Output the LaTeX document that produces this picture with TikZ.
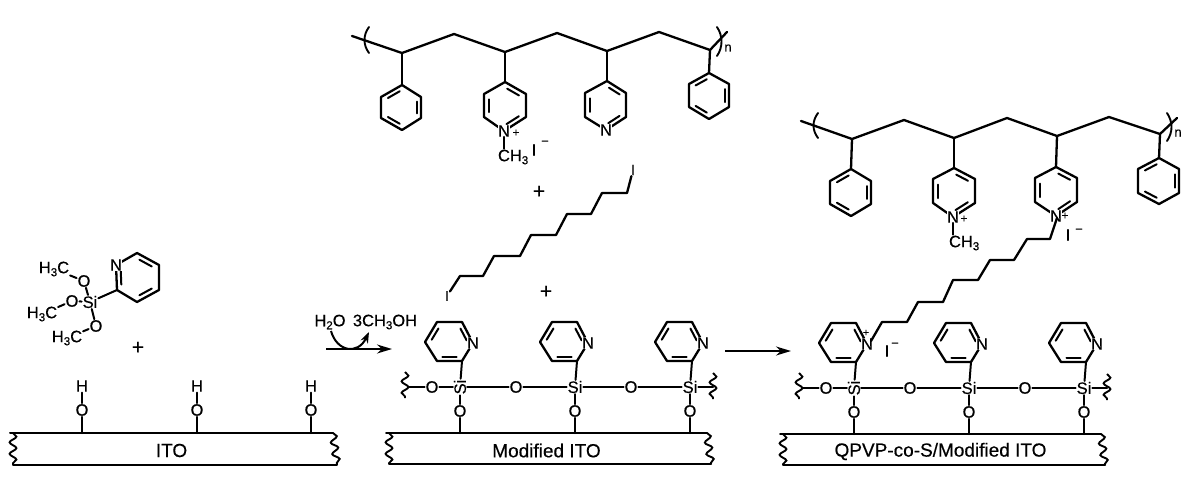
\documentclass[tikz,border=0pt]{standalone}
\usepackage{fontspec}
\setmainfont{Liberation Sans}[FakeBold=0.35]
\usetikzlibrary{calc,arrows.meta,decorations.pathmorphing}
\newcommand{\subn}[1]{\raisebox{-3pt}{\fontsize{11.5}{11.5}\selectfont #1}}
\tikzset{
  bond/.style={line width=2.3pt,line cap=round,line join=round},
  sbond/.style={line width=2pt,line cap=round,line join=round},
  thin bond/.style={line width=2pt,line cap=round},
  atom/.style={font=\fontsize{16.5}{16.5}\selectfont,inner sep=1pt,outer sep=0pt},
  natom/.style={atom,fill=white,inner sep=0.3pt},
  plus/.style={font=\fontsize{21}{21}\selectfont,inner sep=0pt},
  platetext/.style={font=\fontsize{19}{19}\selectfont,inner sep=0pt},
  wave/.style={line width=1.9pt,decorate,decoration={snake,amplitude=3.4pt,segment length=11.5pt}},
  rxn/.style={line width=1.9pt,-{Stealth[length=15pt,width=9pt]}},
  paren/.style={line width=1.9pt,line cap=round}
}
% ring: six vertices, double bonds a-f, b-c, d-e
\newcommand{\setring}[7]{%
  \coordinate (#1a) at (#2); \coordinate (#1b) at (#3); \coordinate (#1c) at (#4);
  \coordinate (#1d) at (#5); \coordinate (#1e) at (#6); \coordinate (#1f) at (#7);
  \coordinate (#1m) at ($(#1a)!0.5!(#1d)$);
  \draw[bond] (#1a)--(#1b)--(#1c)--(#1d)--(#1e)--(#1f)--cycle;}
\newcommand{\dbl}[3]{\draw[sbond] ($(#1#2)!0.14!(#1#3)!0.22!(#1m)$) -- ($(#1#3)!0.14!(#1#2)!0.22!(#1m)$);}
\newcommand{\ringA}[7]{\setring{#1}{#2}{#3}{#4}{#5}{#6}{#7}\dbl{#1}{a}{f}\dbl{#1}{b}{c}\dbl{#1}{d}{e}}
\newcommand{\ringB}[7]{\setring{#1}{#2}{#3}{#4}{#5}{#6}{#7}\dbl{#1}{a}{b}\dbl{#1}{c}{d}\dbl{#1}{e}{f}}
% plate: name, x left, x right, y top, y bottom, label
\newcommand{\plate}[6]{%
  \coordinate (#1tl) at (#2,#4); \coordinate (#1tr) at (#3,#4);
  \coordinate (#1bl) at ($(#2,#5)+(3,0)$); \coordinate (#1br) at ($(#3,#5)+(4,0)$);
  \draw[thin bond] (#1tl)--(#1tr); \draw[thin bond] (#1bl)--(#1br);
  \draw[wave] ($(#1tl)+(3,0)$) -- (#1bl);
  \draw[wave] ($(#1tr)+(0,0)$) -- (#1br);
  \node[platetext] (#1txt) at ($($(#1tl)!0.5!(#1tr)$)+(0,17.5)$) {#6};}
% surface template: prefix, plate label, text of first N
\newcommand{\surface}[3]{%
  \plate{#1P}{386}{707}{433}{464}{#2}
  \ringA{#1r1}{437,322}{462,322}{473,343}{462,361}{437,361}{425,342}
  \ringA{#1r2}{552,322}{577,322}{588,343}{577,361}{552,361}{540,342}
  \ringA{#1r3}{667,322}{692,322}{703,343}{692,361}{667,361}{655,342}
  \node[natom] (#1N1) at (473,343) {#3};
  \node[natom] (#1N2) at (588,343) {N};
  \node[natom] (#1N3) at (703,343) {N};
  \node[atom,rotate=90] (#1S1) at (460,387) {Si};
  \node[atom] (#1S2) at (575,387) {Si};
  \node[atom] (#1S3) at (690,387) {Si};
  \node[atom] (#1L) at (432,387) {O};
  \node[atom] (#1B1) at (516,387) {O};
  \node[atom] (#1B2) at (631,387) {O};
  \node[atom] (#1D1) at (460,411) {O};
  \node[atom] (#1D2) at (575,411) {O};
  \node[atom] (#1D3) at (690,411) {O};
  \coordinate (#1WL) at (405,372); \coordinate (#1WLb) at (405,398);
  \coordinate (#1WR) at (713,373); \coordinate (#1WRb) at (713,399);
  \draw[wave] (#1WL)--(#1WLb); \draw[wave] (#1WR)--(#1WRb);
  \coordinate (#1WLm) at (408,387); \coordinate (#1WRm) at (713,387);
  \coordinate (#1f1) at (460,433); \coordinate (#1f2) at (575,433); \coordinate (#1f3) at (690,433);
  \foreach \i/\j in {1/1,2/2,3/3}{
    \draw[sbond] (#1r\i d) -- (#1S\i);
    \draw[sbond] (#1S\i) -- (#1D\i);
    \draw[sbond] (#1D\i) -- (#1f\i);}
  \draw[sbond] (#1WLm) -- (#1L);
  \draw[sbond] (#1L) -- (#1S1);
  \draw[sbond] (#1S1) -- (#1B1);
  \draw[sbond] (#1B1) -- (#1S2);
  \draw[sbond] (#1S2) -- (#1B2);
  \draw[sbond] (#1B2) -- (#1S3);
  \draw[sbond] (#1S3) -- (#1WRm);}
\begin{document}
\begin{tikzpicture}[x=1pt,y=-1pt]
\useasboundingbox (0,0) rectangle (1204,482);
\fill[white] (0,0) rectangle (1204,482);

% ---------- left silane ----------
\ringB{sil}{137,253}{159,265}{159,290}{137,302}{117,290}{116,265}
\node[natom] (silN) at (116,265) {N};
\node[atom] (silSi) at (90,302) {Si};
\node[atom] (silO1) at (84,281) {O};
\node[atom] (silO2) at (72,301) {O};
\node[atom] (silO3) at (96,326) {O};
\node[atom] (silC1) at (54,269) {H\subn{3}C};
\node[atom] (silC2) at (42,314) {H\subn{3}C};
\node[atom] (silC3) at (67,338) {H\subn{3}C};
\draw[sbond] (sile) -- (silSi);
\draw[sbond] (silSi) -- (silO1);
\draw[sbond] (silSi) -- (silO2);
\draw[sbond] (silSi) -- (silO3);
\draw[sbond] (silO1) -- (silC1);
\draw[sbond] (silO2) -- (silC2);
\draw[sbond] (silO3) -- (silC3);
\node[plus] (plusA) at (138,348) {+};

% ---------- ITO ----------
\plate{ito}{10}{333}{433}{465}{ITO}
\foreach \n/\x in {1/82,2/197,3/311}{
  \node[atom] (itoO\n) at (\x,410) {O};
  \node[atom] (itoH\n) at (\x,386) {H};
  \coordinate (itoF\n) at (\x,433);
  \draw[sbond] (itoH\n) -- (itoO\n);
  \draw[sbond] (itoO\n) -- (itoF\n);}

% ---------- first arrow ----------
\coordinate (arA1) at (326,349); \coordinate (arA2) at (392,349);
\draw[rxn] (arA1) -- (arA2);
\node[atom] (water) at (330,322) {H\subn{2}O};
\node[atom] (meoh) at (385,322) {3CH\subn{3}OH};
\coordinate (curveS) at (331,331); \coordinate (curveE) at (369,332);
\draw[line width=2pt,-{Stealth[length=11pt,width=8pt]}] (curveS) .. controls (337,352) and (358,355) .. (curveE);

% ---------- surfaces ----------
\surface{m}{Modified ITO}{N}
\begin{scope}[shift={(394,1)}]
\surface{q}{QPVP-co-S/Modified ITO}{N}
\end{scope}
\node[inner sep=0pt,font=\fontsize{11}{11}\selectfont] (qplusA) at (866,333) {+};
\node[atom] (qI) at (887,351) {I};
\node[atom] (qIm) at (895,345) {\fontsize{13}{13}\selectfont −};

% ---------- second arrow ----------
\coordinate (arB1) at (725,351); \coordinate (arB2) at (791,351);
\draw[rxn] (arB1) -- (arB2);

% ---------- polymer 1 ----------
\coordinate (aS) at (352,36); \coordinate (a1) at (402,53); \coordinate (a2) at (454,34);
\coordinate (a3) at (505,52); \coordinate (a4) at (557,33); \coordinate (a5) at (607,51);
\coordinate (a6) at (659,32); \coordinate (a7) at (710,50); \coordinate (aE) at (727,32);
\draw[bond] (aS)--(a1)--(a2)--(a3)--(a4)--(a5)--(a6)--(a7)--(aE);
\coordinate (ap1) at (369,27); \coordinate (ap2) at (369,53);
\coordinate (aq1) at (717,27); \coordinate (aq2) at (717,56);
\draw[paren] (ap1) .. controls (363,35) and (363,45) .. (ap2);
\draw[paren] (aq1) .. controls (723,36) and (723,47) .. (aq2);
\node[inner sep=0pt,font=\fontsize{13}{13}\selectfont] (an) at (728,48) {n};
\ringA{ar1}{402,85}{421,97}{421,118}{402,130}{381,118}{381,97}
\ringB{ar2}{505,82}{526,94}{526,117}{504,131}{484,117}{484,94}
\ringB{ar3}{607,81}{626,93}{626,117}{606,130}{585,117}{585,93}
\ringA{ar4}{709,73}{729,84}{729,107}{709,119}{689,107}{689,84}
\draw[bond] (a1)--(ar1a); \draw[bond] (a3)--(ar2a);
\draw[bond] (a5)--(ar3a); \draw[bond] (a7)--(ar4a);
\node[natom] (aN1) at (504,131) {N};
\node[inner sep=0pt,font=\fontsize{12}{12}\selectfont] (aN1p) at (516,133) {+};
\node[natom] (aN2) at (606,130) {N};
\node[atom,anchor=west] (aMe) at (497,157) {CH\subn{3}};
\draw[sbond] (aN1) -- (aMe.north -| aN1);
\node[atom] (aI) at (534,150) {I};
\node[atom] (aIm) at (545,143) {\fontsize{13}{13}\selectfont −};

\node[plus] (plusB) at (539,192) {+};
\node[plus] (plusC) at (546,292) {+};

% ---------- diiodide ----------
\node[atom,font=\fontsize{14}{14}\selectfont] (iA) at (447,296) {I};
\node[atom,font=\fontsize{15}{15}\selectfont] (iB) at (633,170) {I};
\coordinate (d1) at (460,276); \coordinate (d2) at (483,276); \coordinate (d3) at (494,256);
\coordinate (d4) at (520,256); \coordinate (d5) at (531,235); \coordinate (d6) at (556,235);
\coordinate (d7) at (567,214); \coordinate (d8) at (591,214); \coordinate (d9) at (602,193);
\coordinate (d10) at (627,193);
\draw[bond] (iA)--(d1)--(d2)--(d3)--(d4)--(d5)--(d6)--(d7)--(d8)--(d9)--(d10)--(iB);

% ---------- polymer 2 ----------
\coordinate (bS) at (801,121); \coordinate (b1) at (852,139); \coordinate (b2) at (904,120);
\coordinate (b3) at (954,138); \coordinate (b4) at (1007,118); \coordinate (b5) at (1057,136);
\coordinate (b6) at (1109,117); \coordinate (b7) at (1160,134); \coordinate (bE) at (1177,118);
\draw[bond] (bS)--(b1)--(b2)--(b3)--(b4)--(b5)--(b6)--(b7)--(bE);
\coordinate (bp1) at (818,113); \coordinate (bp2) at (818,138);
\coordinate (bq1) at (1167,113); \coordinate (bq2) at (1167,141);
\draw[paren] (bp1) .. controls (812,121) and (812,130) .. (bp2);
\draw[paren] (bq1) .. controls (1173,122) and (1173,132) .. (bq2);
\node[inner sep=0pt,font=\fontsize{13}{13}\selectfont] (bn) at (1178,133) {n};
\ringA{br1}{851,169}{871,181}{871,204}{851,216}{830,204}{830,181}
\ringB{br2}{954,168}{975,179}{975,203}{953,217}{933,203}{933,179}
\ringB{br3}{1056,167}{1077,178}{1077,202}{1056,216}{1035,202}{1035,178}
\ringA{br4}{1159,158}{1179,169}{1179,193}{1159,204}{1138,193}{1138,169}
\draw[bond] (b1)--(br1a); \draw[bond] (b3)--(br2a);
\draw[bond] (b5)--(br3a); \draw[bond] (b7)--(br4a);
\node[natom] (bN1) at (953,217) {N};
\node[inner sep=0pt,font=\fontsize{12}{12}\selectfont] (bN1p) at (964,219) {+};
\node[natom] (bN2) at (1056,216) {N};
\node[inner sep=0pt,font=\fontsize{12}{12}\selectfont] (bN2p) at (1065,216) {+};
\node[atom,anchor=west] (bMe) at (948,243) {CH\subn{3}};
\draw[sbond] (bN1) -- (bMe.north -| bN1);
\node[atom] (bI) at (1068,235) {I};
\node[atom] (bIm) at (1079,231) {\fontsize{13}{13}\selectfont −};

% ---------- tether ----------
\coordinate (e0) at (1057,218); \coordinate (e1) at (1050,239); \coordinate (e2) at (1027,239);
\coordinate (e3) at (1014,260); \coordinate (e4) at (990,260); \coordinate (e5) at (978,280);
\coordinate (e6) at (953,280); \coordinate (e7) at (943,302); \coordinate (e8) at (918,302);
\coordinate (e9) at (907,322); \coordinate (e10) at (882,322); \coordinate (e11) at (871,341);
\draw[bond] (e0)--(e1)--(e2)--(e3)--(e4)--(e5)--(e6)--(e7)--(e8)--(e9)--(e10)--(e11);
\end{tikzpicture}
\end{document}
